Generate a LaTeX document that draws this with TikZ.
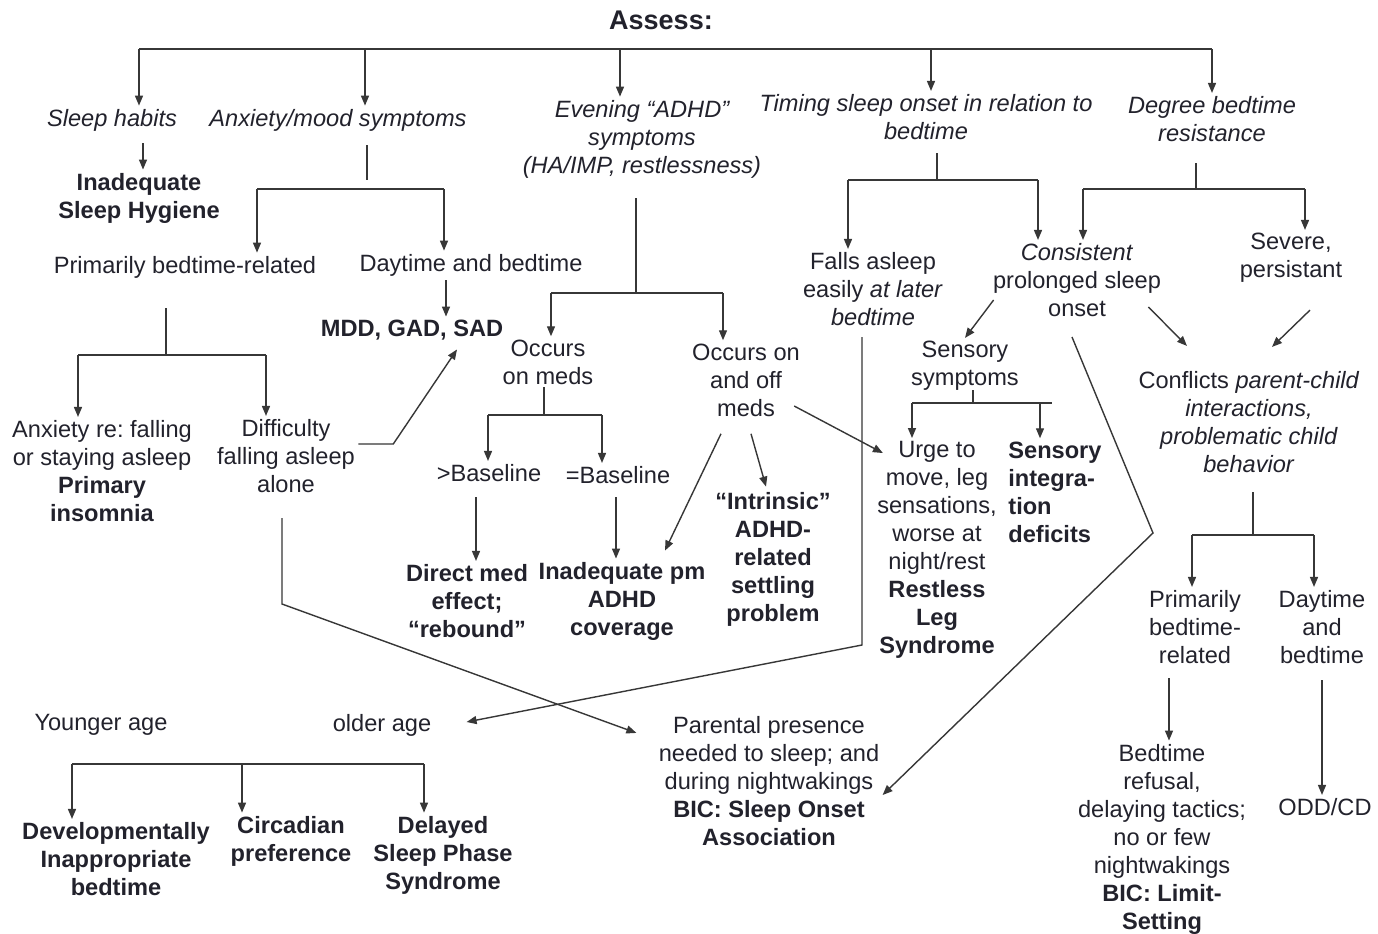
\documentclass[tikz,border=0pt]{standalone}
\usepackage{fontspec}
\setmainfont{Liberation Sans}
\usepackage{tikz}
\usetikzlibrary{arrows.meta}
\frenchspacing

\definecolor{ink}{RGB}{34,34,44}
\definecolor{wire}{RGB}{55,55,55}

\begin{document}
\begin{tikzpicture}[x=0.5pt, y=-0.5pt,
		txt/.style={align=center, text=ink, inner sep=1.5pt, font=\fontsize{11.8}{14}\selectfont},
		ask/.style={txt, font=\fontsize{11.8}{14}\selectfont\itshape},
		dx/.style={txt, font=\fontsize{11.8}{14}\selectfont\bfseries},
		ln/.style={draw=wire, line width=0.7pt},
		arr/.style={ln, -{Triangle[length=5pt, width=4pt]}}]
		\fill[white] (0,0) rectangle (1378,933);
		\useasboundingbox (0,0) rectangle (1378,933);

		% questions
		\node[txt, font=\fontsize{13.5}{16}\selectfont\bfseries] (assess) at (661,20) {Assess:};
		\node[ask] (habits) at (112,120) {Sleep habits};
		\node[ask] (anx) at (338,120) {Anxiety/mood symptoms};
		\node[ask] (even) at (642,139) {Evening “ADHD”\\symptoms\\(HA/IMP, restlessness)};
		\node[ask] (timing) at (926,117) {Timing sleep onset in relation to\\bedtime};
		\node[ask] (degree) at (1212,119) {Degree bedtime\\resistance};

		% sleep habits, anxiety
		\node[dx] (hyg) at (139,198) {Inadequate\\Sleep Hygiene};
		\node[txt] (primbed) at (185,267) {Primarily bedtime-related};
		\node[txt] (daybed) at (471,265) {Daytime and bedtime};
		\node[dx] (mdd) at (412,330) {MDD, GAD, SAD};
		\node[txt] (anxre) at (102,471) {Anxiety re: falling\\or staying asleep\\\textbf{Primary}\\\textbf{insomnia}};
		\node[txt] (diff) at (286,456) {Difficulty\\falling asleep\\alone};

		% ADHD
		\node[txt] (onmeds) at (548,362) {Occurs\\on meds};
		\node[txt] (onoff) at (746,380) {Occurs on\\and off\\meds};
		\node[txt] (gtb) at (489,473) {>Baseline};
		\node[txt] (eqb) at (618,475) {=Baseline};
		\node[dx] (direct) at (467,601) {Direct med\\effect;\\“rebound”};
		\node[dx] (inadeq) at (622,601) {Inadequate pm\\ADHD\\coverage};
		\node[dx] (intr) at (773,559) {“Intrinsic”\\ADHD-\\related\\settling\\problem};

		% timing, resistance
		\node[txt] (falls) at (873,289) {Falls asleep\\easily \textit{at later}\\\textit{bedtime}};
		\node[txt] (consist) at (1077,280) {\textit{Consistent}\\prolonged sleep\\onset};
		\node[txt] (severe) at (1291,258) {Severe,\\persistant};
		\node[txt] (sensory) at (965,366) {Sensory\\symptoms};
		\node[txt] (urge) at (937,550) {Urge to\\move, leg\\sensations,\\worse at\\night/rest\\\textbf{Restless}\\\textbf{Leg}\\\textbf{Syndrome}};
		\node[dx, align=left, anchor=west] (sid) at (1005,492) {Sensory\\integra-\\tion\\deficits};
		\node[txt] (conflicts) at (1249,422) {Conflicts \textit{parent-child}\\\textit{interactions,}\\\textit{problematic child}\\\textit{behavior}};
		\node[txt] (pbr) at (1195,627) {Primarily\\bedtime-\\related};
		\node[txt] (dab) at (1322,627) {Daytime\\and\\bedtime};
		\node[txt] (limit) at (1162,839) {Bedtime\\refusal,\\delaying tactics;\\no or few\\nightwakings\\\textbf{BIC: Limit-}\\\textbf{Setting}};
		\node[txt] (oddcd) at (1325,807) {ODD/CD};

		% bottom left
		\node[txt] (younger) at (101,725) {Younger age};
		\node[txt] (older) at (382,725) {older age};
		\node[dx] (devel) at (116,859) {Developmentally\\Inappropriate\\bedtime};
		\node[dx] (circ) at (291,841) {Circadian\\preference};
		\node[dx] (dsps) at (443,855) {Delayed\\Sleep Phase\\Syndrome};
		\node[txt] (parent) at (769,781) {Parental presence\\needed to sleep; and\\during nightwakings\\\textbf{BIC: Sleep Onset}\\\textbf{Association}};

		% top bar
		\foreach \n/\x in {habits/139, anx/365, even/620, timing/931, degree/1212}
			\coordinate (top-\n) at (\x,49);
		\draw[ln] (top-habits) -- (top-degree);
		\foreach \n in {habits, anx, even, timing, degree}
			\draw[arr] (top-\n) -- (top-\n |- \n.north);

		% brackets
		\coordinate (anx-t) at (367,145); \coordinate (anx-s) at (367,180);
		\coordinate (anx-l) at (257,189); \coordinate (anx-r) at (444,189);
		\coordinate (pb-t) at (166,308); \coordinate (pb-j) at (166,355);
		\coordinate (pb-l) at (78,355); \coordinate (pb-r) at (266,355);
		\coordinate (ev-t) at (636,198); \coordinate (ev-j) at (636,293);
		\coordinate (ev-l) at (551,293); \coordinate (ev-r) at (723,293);
		\coordinate (om-t) at (544,387); \coordinate (om-j) at (544,415);
		\coordinate (om-l) at (488,415); \coordinate (om-r) at (602,415);
		\coordinate (tm-t) at (937,153); \coordinate (tm-j) at (937,180);
		\coordinate (tm-l) at (848,180); \coordinate (tm-r) at (1038,180);
		\coordinate (dg-t) at (1196,163); \coordinate (dg-j) at (1196,189);
		\coordinate (dg-l) at (1083,189); \coordinate (dg-r) at (1305,189);
		\coordinate (ss-t) at (973,390); \coordinate (ss-j) at (973,403);
		\coordinate (ss-l) at (912,403); \coordinate (ss-r) at (1040,403); \coordinate (ss-e) at (1052,403);
		\coordinate (cf-t) at (1253,492); \coordinate (cf-j) at (1253,535);
		\coordinate (cf-l) at (1192,535); \coordinate (cf-r) at (1314,535);
		\coordinate (ag-l) at (72,764); \coordinate (ag-m) at (242,764); \coordinate (ag-r) at (424,764);
		\foreach \a/\b in {anx-t/anx-s, anx-l/anx-r, pb-t/pb-j, pb-l/pb-r, ev-t/ev-j, ev-l/ev-r, om-t/om-j, om-l/om-r,
				tm-t/tm-j, tm-l/tm-r, dg-t/dg-j, dg-l/dg-r, ss-t/ss-j, ss-l/ss-e, cf-t/cf-j, cf-l/cf-r, ag-l/ag-r}
			\draw[ln] (\a) -- (\b);

		% straight drops
		\coordinate (hab-a) at (143,143);
		\coordinate (day-a) at (446,280);
		\coordinate (gtb-a) at (476,497);
		\coordinate (eqb-a) at (616,497);
		\coordinate (pbr-a) at (1169,678);
		\coordinate (dab-a) at (1322,680);
		\foreach \c/\n in {hab-a/hyg, anx-l/primbed, anx-r/daybed, day-a/mdd, pb-l/anxre, pb-r/diff,
				ev-l/onmeds, ev-r/onoff, om-l/gtb, om-r/eqb, gtb-a/direct, eqb-a/inadeq,
				tm-l/falls, tm-r/consist, dg-l/consist, dg-r/severe, ss-l/urge, ss-r/sid,
				cf-l/pbr, cf-r/dab, pbr-a/limit, dab-a/oddcd, ag-l/devel, ag-m/circ, ag-r/dsps}
			\draw[arr] (\c) -- (\c |- \n.north);

		% cross links
		\draw[arr] ([yshift=6pt]diff.east) -- ++(35,0) -- ([xshift=22.5pt,yshift=-3pt]mdd.south);
		\coordinate (dp-a) at (282,518); \coordinate (dp-b) at (282,604);
		\draw[arr] (dp-a) -- (dp-b) -- ([xshift=-9.5pt,yshift=-10pt]parent.north west);
		\coordinate (fa-a) at (862,337); \coordinate (fa-b) at (862,645);
		\draw[arr] (fa-a) -- (fa-b) -- ([xshift=16pt,yshift=1.5pt]older.east);
		\coordinate (cp-a) at (1072,337); \coordinate (cp-b) at (1153,533);
		\draw[arr] (cp-a) -- (cp-b) -- ([yshift=-7pt]parent.east);
		\draw[arr] ([xshift=-12.5pt,yshift=-7pt]onoff.south) -- ([xshift=21.5pt,yshift=4pt]inadeq.north);
		\draw[arr] ([xshift=2.5pt,yshift=-7pt]onoff.south) -- ([xshift=-3.5pt,yshift=1pt]intr.north);
		\draw[arr] ([xshift=-4.5pt,yshift=-13pt]onoff.east) -- ([xshift=4.5pt,yshift=-7.5pt]urge.north west);
		\draw[arr] ([xshift=2pt,yshift=-10pt]consist.west) -- (sensory.north);
		\draw[arr] ([xshift=-8pt,yshift=-13.5pt]consist.east) -- ([xshift=-31pt,yshift=11pt]conflicts.north);
		\draw[arr] ([xshift=9.5pt,yshift=-12pt]severe.south) -- ([xshift=11.5pt,yshift=10.5pt]conflicts.north);
	\end{tikzpicture}
\end{document}
